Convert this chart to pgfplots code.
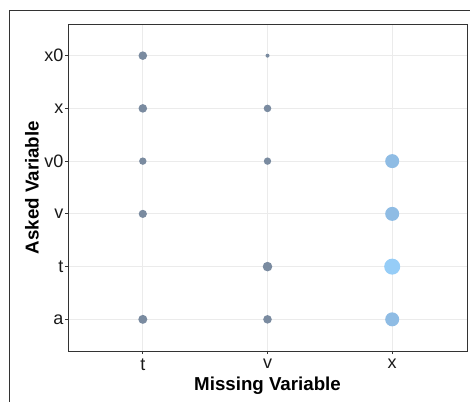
\documentclass[border=0pt]{standalone}
\usepackage{fontspec}
\setmainfont{Liberation Sans}
\usepackage{pgfplots}
\pgfplotsset{compat=1.18}
\definecolor{gridc}{HTML}{EBEBEB}
\definecolor{framec}{HTML}{333333}
\definecolor{darkpt}{HTML}{7A8BA0}
\definecolor{midpt}{HTML}{8FBCE4}
\definecolor{lightpt}{HTML}{96CDF7}
\begin{document}
\begin{tikzpicture}[x=1pt,y=1pt]
\useasboundingbox (-68,-50) rectangle (402,351);
\draw[framec, line width=1pt] (-58.5,-52) -- (-58.5,340) -- (404,340);
\begin{axis}[at={(0,0)}, anchor=south west, scale only axis,
  width=399pt, height=327pt,
  xmin=0.4, xmax=3.6, ymin=0.4, ymax=6.6,
  xtick={1,2,3}, xticklabels={t,v,x},
  ytick={1,2,3,4,5,6}, yticklabels={a,t,v,v0,x,x0},
  grid=major, grid style={gridc, line width=0.9pt},
  axis line style={framec, line width=0.9pt},
  tick style={framec, line width=0.8pt},
  tick align=outside, major tick length=3pt,
  xtick pos=bottom, ytick pos=left,
  tick label style={font=\fontsize{18}{20}\selectfont, text=black!90},
  yticklabel style={inner sep=1.5pt},
  xticklabel style={inner sep=1pt, yshift=-4pt},
  xlabel={Missing Variable}, ylabel={Asked Variable},
  label style={font=\bfseries\fontsize{18.7}{21}\selectfont, text=black},
  xlabel style={at={(axis description cs:0.5,-0.1193)}, anchor=base},
  ylabel style={at={(axis description cs:-0.0902,0.5)}, anchor=center},
  visualization depends on={\thisrow{r}\as\rr},
  scatter/@pre marker code/.code={%
    \pgfkeys{/pgf/fpu=false}%
    \edef\tmpmarkopts{\noexpand\scope[mark size=\rr pt, draw opacity=0, line width=0pt]}\tmpmarkopts},
  scatter/@post marker code/.code={\endscope},
]
\addplot[only marks, mark=*, mark options={draw opacity=0, fill=darkpt}, scatter]
  table[x=x, y=y] {
x y r
1 6 4.3
1 5 4.3
1 4 3.7
1 3 4.1
1 1 4.5
2 6 2.0
2 5 3.8
2 4 3.7
2 2 4.8
2 1 4.3
};
\addplot[only marks, mark=*, mark options={draw opacity=0, fill=midpt}, scatter]
  table[x=x, y=y] {
x y r
3 4 7.0
3 3 7.0
3 1 7.0
};
\addplot[only marks, mark=*, mark options={draw opacity=0, fill=lightpt}, scatter]
  table[x=x, y=y] {
x y r
3 2 8.0
};
\end{axis}
\end{tikzpicture}
\end{document}
